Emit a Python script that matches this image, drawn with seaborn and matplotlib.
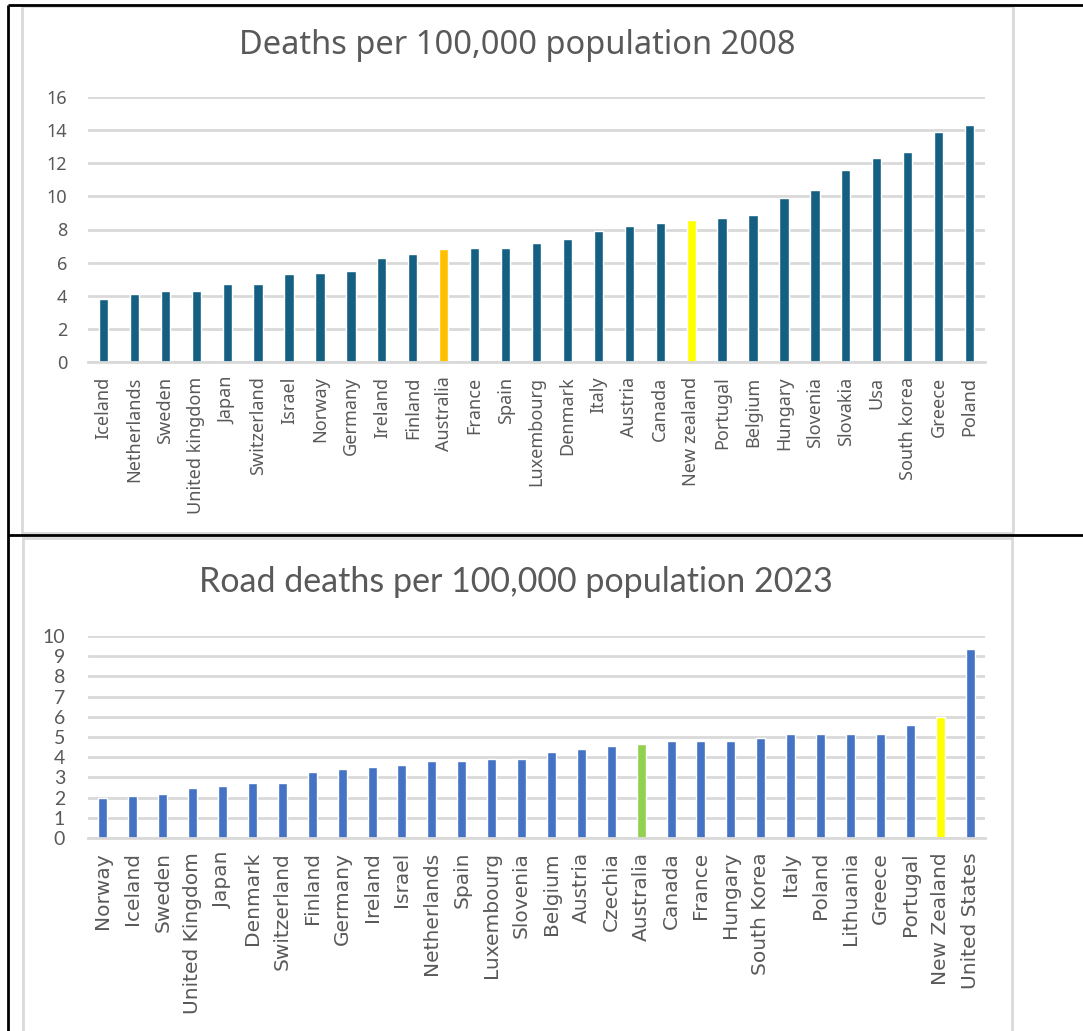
import matplotlib
matplotlib.use("Agg")
import matplotlib.pyplot as plt
from matplotlib.lines import Line2D
from matplotlib.patches import Rectangle
from matplotlib.font_manager import FontProperties
import seaborn as sns
import pandas as pd

# --- 2008 data -------------------------------------------------------------
countries_2008 = ["Iceland", "Netherlands", "Sweden", "United kingdom", "Japan",
                  "Switzerland", "Israel", "Norway", "Germany", "Ireland", "Finland",
                  "Australia", "France", "Spain", "Luxembourg", "Denmark", "Italy",
                  "Austria", "Canada", "New zealand", "Portugal", "Belgium", "Hungary",
                  "Slovenia", "Slovakia", "Usa", "South korea", "Greece", "Poland"]
deaths_2008 = [3.8, 4.1, 4.3, 4.3, 4.7, 4.7, 5.3, 5.4, 5.5, 6.3, 6.5, 6.8, 6.9, 6.9,
               7.2, 7.4, 7.9, 8.2, 8.4, 8.6, 8.7, 8.9, 9.9, 10.4, 11.6, 12.3, 12.7,
               13.9, 14.3]

# --- 2023 data -------------------------------------------------------------
countries_2023 = ["Norway", "Iceland", "Sweden", "United Kingdom", "Japan", "Denmark",
                  "Switzerland", "Finland", "Germany", "Ireland", "Israel", "Netherlands",
                  "Spain", "Luxembourg", "Slovenia", "Belgium", "Austria", "Czechia",
                  "Australia", "Canada", "France", "Hungary", "South Korea", "Italy",
                  "Poland", "Lithuania", "Greece", "Portugal", "New Zealand",
                  "United States"]
deaths_2023 = [2.0, 2.1, 2.2, 2.5, 2.55, 2.7, 2.7, 3.25, 3.4, 3.5, 3.6, 3.8, 3.8, 3.9,
               3.9, 4.25, 4.4, 4.55, 4.65, 4.8, 4.8, 4.8, 4.95, 5.15, 5.15, 5.15, 5.15,
               5.6, 6.0, 9.35]

W, H = 1083, 1031
TEXT = "#595959"
GRID = "#d9d9d9"

sns.set_theme(style="white")
fig = plt.figure(figsize=(W / 100, H / 100), dpi=100)
fig.patch.set_facecolor("white")


def fp(family, size):
    return FontProperties(family=family, size=size, stretch="normal",
                          weight="normal", style="normal")


def px_axes(x0, y_top, x1, y_bottom):
    return fig.add_axes([x0 / W, 1 - y_bottom / H, (x1 - x0) / W, (y_bottom - y_top) / H])


def fig_line(x0, y0, x1, y1, color, lw):
    fig.add_artist(Line2D([x0 / W, x1 / W], [1 - y0 / H, 1 - y1 / H],
                          transform=fig.transFigure, color=color, lw=lw,
                          solid_capstyle="butt"))


def fig_rect(x0, y0, x1, y1, color, lw):
    fig.add_artist(Rectangle((x0 / W, 1 - y1 / H), (x1 - x0) / W, (y1 - y0) / H,
                             transform=fig.transFigure, fill=False, edgecolor=color,
                             lw=lw))


# panel frames
fig_rect(22, 6, 1013, 533, GRID, 2)
fig_rect(23, 538, 1012, 1040, GRID, 2)
fig_line(8, 5, 8, 1031, "black", 2)
fig_line(8, 5, 1083, 5, "black", 2)
fig_line(8, 535, 1083, 535, "black", 2)


def style_axes(ax, labels, ymax, step, yfont, xfont, xpad, ypad):
    n = len(labels)
    ax.set_xlim(-0.5, n - 0.5)
    ax.set_ylim(0, ymax)
    ax.set_axisbelow(True)
    ax.yaxis.grid(True, color=GRID, lw=2)
    ax.xaxis.grid(False)
    for s in ["top", "right", "left"]:
        ax.spines[s].set_visible(False)
    ax.spines["bottom"].set_color(GRID)
    ax.spines["bottom"].set_linewidth(2)
    ax.set_xlabel("")
    ax.set_ylabel("")
    ax.set_facecolor("none")
    ax.tick_params(axis="x", length=0, pad=xpad)
    ax.tick_params(axis="y", length=0, pad=ypad)
    ax.set_xticks(range(n))
    ax.set_xticklabels(labels, rotation=90, ha="center", va="top",
                       rotation_mode="default", fontproperties=xfont, color=TEXT)
    yt = list(range(0, ymax + 1, step))
    ax.set_yticks(yt)
    ax.set_yticklabels([str(v) for v in yt], fontproperties=yfont, color=TEXT)


# --- 2008 chart --------------------------------------------------------------
df08 = pd.DataFrame({"country": countries_2008, "deaths": deaths_2008})
pal08 = {c: "#156082" for c in countries_2008}
pal08["Australia"] = "#FFC000"
pal08["New zealand"] = "#FFFF00"
ax1 = px_axes(88, 97, 985, 362)
sns.barplot(data=df08, x="country", y="deaths", hue="country", palette=pal08,
            legend=False, width=0.3, saturation=1, ax=ax1)
style_axes(ax1, countries_2008, 16, 2, fp("Noto Sans", 13), fp("Noto Sans", 13),
           10.5, 15)
fig.text(517 / W, 1 - 45 / H, "Deaths per 100,000 population 2008", ha="center",
         va="center", color=TEXT, fontproperties=fp("Noto Sans", 23.5))

# --- 2023 chart --------------------------------------------------------------
df23 = pd.DataFrame({"country": countries_2023, "deaths": deaths_2023})
pal23 = {c: "#4472C4" for c in countries_2023}
pal23["Australia"] = "#92D050"
pal23["New Zealand"] = "#FFFF00"
ax2 = px_axes(88, 636, 985, 838)
sns.barplot(data=df23, x="country", y="deaths", hue="country", palette=pal23,
            legend=False, width=0.3, saturation=1, ax=ax2)
style_axes(ax2, countries_2023, 10, 1, fp("Lato", 14), fp("DejaVu Sans", 14.5),
           10, 16.5)
fig.text(516 / W, 1 - 582 / H, "Road deaths per 100,000 population 2023", ha="center",
         va="center", color=TEXT, fontproperties=fp("Lato", 24.5))

fig.savefig("out.png", dpi=100, facecolor="white")
